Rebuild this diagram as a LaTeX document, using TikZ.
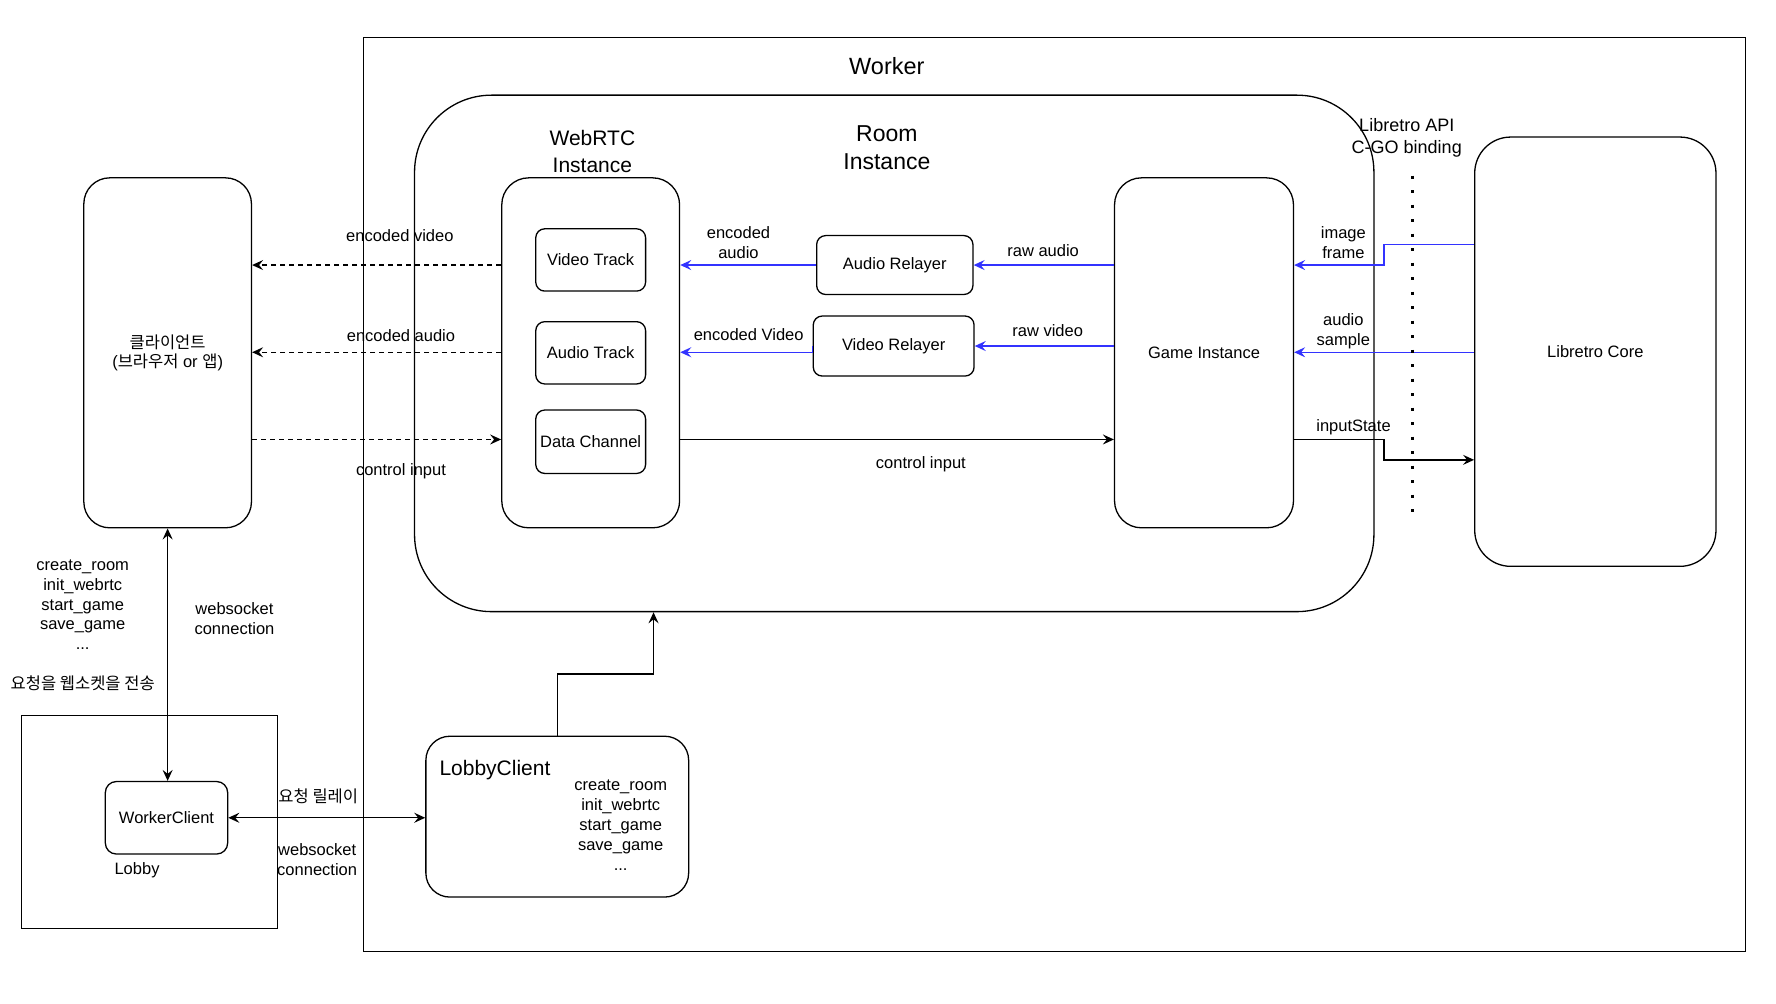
\documentclass[tikz,border=0pt]{standalone}
\usepackage{fontspec}
\setmainfont{Liberation Sans}
\newfontfamily\kr{Noto Sans CJK KR}
\usetikzlibrary{arrows.meta}
\definecolor{arrblue}{RGB}{51,51,255}
\newcommand\sfont{\fontsize{16.5}{19.5}\selectfont}
\newcommand\mybox[7]{\node[rbox, rounded corners=#6, minimum width={(#4-#2)*1.1327pt}, minimum height={(#5-#3)*1.1327pt}] (#1) at ({(#2+#4)/2},{(#3+#5)/2}) {#7};}
\begin{document}
\begin{tikzpicture}[x=1.1327pt, y=-1.1327pt, line width=1.3pt,
  >={Stealth[length=11pt,width=10pt,inset=4pt]},
  lbl/.style={inner sep=0pt, align=center, font=\sfont},
  rbox/.style={draw, inner sep=0pt, align=center, font=\sfont},
  bluearr/.style={draw=arrblue, ->},
  dasharr/.style={dash pattern=on 5pt off 4pt, ->},
]
\useasboundingbox (0,0) rectangle (1568,886);
% containers
\mybox{worker}{321}{33}{1541}{840}{0pt}{}
\node[lbl, font=\fontsize{23.5}{28}\selectfont] (workerlbl) at (783,58) {Worker};
\mybox{room}{366}{84}{1213}{540}{77pt}{}
\node[lbl, font=\fontsize{23}{28}\selectfont] (roomlbl) at (783,130.5) {Room\\Instance};
\node[lbl, font=\fontsize{21}{27}\selectfont] (webrtclbl) at (523,134) {WebRTC\\Instance};
\mybox{webrtc}{443}{157}{600}{466}{27pt}{}
\mybox{vtrack}{473}{202}{570}{257}{9pt}{Video Track}
\mybox{atrack}{473}{284}{570}{339}{9pt}{Audio Track}
\mybox{dchan}{473}{362}{570}{418}{9pt}{Data Channel}
\mybox{arel}{721}{208}{859}{260}{9pt}{Audio Relayer}
\mybox{vrel}{718}{279}{860}{332}{9pt}{Video Relayer}
\mybox{game}{984}{157}{1142}{466}{27pt}{Game Instance}
\mybox{core}{1302}{121}{1515}{500}{36pt}{Libretro Core}
\mybox{client}{74}{157}{222}{466}{26pt}{{\kr 클라이언트}\\({\kr 브라우저} or {\kr 앱})}
\mybox{lobby}{19}{632}{245}{820}{0pt}{}
\mybox{wc}{93}{690}{201}{754}{11pt}{WorkerClient}
\mybox{lc}{376}{650}{608}{792}{24pt}{}
% helper coordinates
\coordinate (ya) at (0,234);
\coordinate (yb) at (0,311);
\coordinate (yc) at (0,388);
\coordinate (yd) at (0,216);
\coordinate (ye) at (0,406);
\coordinate (yf) at (0,595);
\coordinate (bx) at (1222,0);
\coordinate (rx) at (577,0);
\coordinate (dt) at (1247,155);
\coordinate (db) at (1247,455);
% connectors
\draw[dasharr] (webrtc.west |- ya) -- (client.east |- ya);
\draw[dasharr] (webrtc.west |- yb) -- (client.east |- yb);
\draw[dasharr] (client.east |- yc) -- (webrtc.west |- yc);
\draw[bluearr] (arel.west) -- (webrtc.east |- arel.west);
\draw[bluearr] (vrel.west) |- (webrtc.east |- yb);
\draw[bluearr] (game.west |- arel.east) -- (arel.east);
\draw[bluearr] (game.west |- vrel.east) -- (vrel.east);
\draw[bluearr] (core.west |- yd) -| (bx |- ya) -- (game.east |- ya);
\draw[bluearr] (core.west |- yb) -- (game.east |- yb);
\draw[->] (webrtc.east |- yc) -- (game.west |- yc);
\draw[->] (game.east |- yc) -| (bx |- ye) -- (core.west |- ye);
\draw[<->] (client.south) -- (client.south |- wc.north);
\draw[<->] (wc.east) -- (lc.west |- wc.east);
\draw[->] (lc.north) |- (rx |- yf) -- (rx |- room.south);
\draw[line width=3pt, dash pattern=on 3pt off 11.5pt] (dt) -- (db);
% labels
\node[lbl] (l1) at (353,208) {encoded video};
\node[lbl] (l2) at (354,296) {encoded audio};
\node[lbl] (l3) at (354,416) {control input};
\node[lbl] (l4) at (652,214) {encoded\\audio};
\node[lbl] (l5) at (661,295) {encoded Video};
\node[lbl] (l6) at (921,221) {raw audio};
\node[lbl] (l7) at (925,292) {raw video};
\node[lbl] (l8) at (1186,214) {image\\frame};
\node[lbl] (l9) at (1186,292.5) {audio\\sample};
\node[lbl] (l10) at (1195,377) {inputState};
\node[lbl] (l11) at (813,410) {control input};
\node[lbl, font=\fontsize{18}{21.5}\selectfont] (l12) at (1242,121.5) {Libretro API\\C-GO binding};
\node[lbl, font=\fontsize{16.5}{19.8}\selectfont] (l13) at (73,534) {create\_room\\init\_webrtc\\start\_game\\save\_game\\...};
\node[lbl] (l14) at (207,546) {websocket\\connection};
\node[lbl] (l15) at (73,603) {\kr 요청을 웹소켓을 전송};
\node[lbl] (l16) at (281,703) {\kr 요청 릴레이};
\node[lbl] (l17) at (280,759) {websocket\\connection};
\node[lbl] (l18) at (121,768) {Lobby};
\node[lbl, font=\fontsize{21}{25}\selectfont] (l19) at (437,680) {LobbyClient};
\node[lbl, font=\fontsize{16.5}{19.8}\selectfont] (l20) at (548,728.5) {create\_room\\init\_webrtc\\start\_game\\save\_game\\...};
\end{tikzpicture}
\end{document}
